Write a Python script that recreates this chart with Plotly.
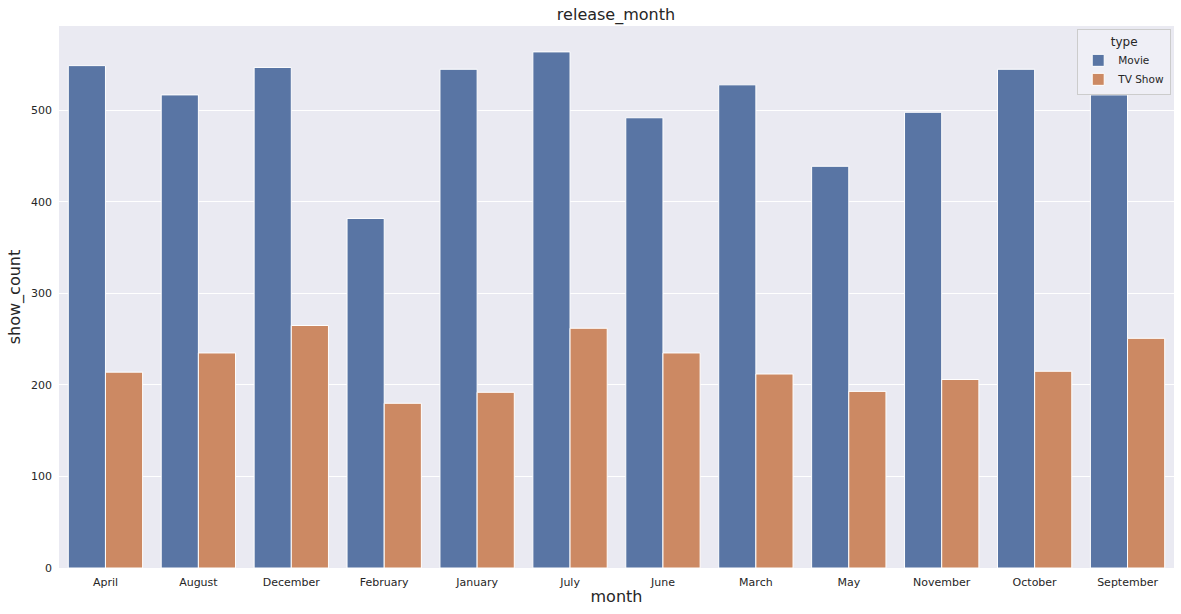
import plotly.graph_objects as go

months = ["April", "August", "December", "February", "January", "July",
          "June", "March", "May", "November", "October", "September"]
movie_counts = [549, 517, 547, 382, 545, 564, 492, 528, 439, 498, 545, 517]
tv_counts = [214, 235, 265, 180, 192, 262, 235, 212, 193, 206, 215, 251]

FONT = "DejaVu Sans"
fig = go.Figure()
fig.add_trace(go.Bar(x=months, y=movie_counts, name="Movie",
                     marker=dict(color="#5975a4", line=dict(color="white", width=1))))
fig.add_trace(go.Bar(x=months, y=tv_counts, name="TV Show",
                     marker=dict(color="#cc8963", line=dict(color="white", width=1))))

fig.update_layout(
    width=1181, height=614,
    margin=dict(l=59, r=7, t=26, b=46, autoexpand=False),
    barmode="group", bargap=0.2, bargroupgap=0,
    plot_bgcolor="#eaeaf2", paper_bgcolor="white",
    font=dict(family=FONT, color="#262626", size=11),
    title=dict(text="release_month", x=0.5216, xanchor="center", y=0.977, yanchor="middle",
               font=dict(size=16, family=FONT, color="#262626")),
    xaxis=dict(title=dict(text="month", font=dict(size=16), standoff=2),
               showgrid=False, ticks="", tickfont=dict(size=11), ticklabelstandoff=6,
               automargin=False),
    yaxis=dict(title=dict(text="show_count", font=dict(size=16), standoff=6),
               range=[0, 592.3], tickvals=[0, 100, 200, 300, 400, 500],
               gridcolor="white", gridwidth=1, zeroline=False, ticks="",
               tickfont=dict(size=11), ticklabelstandoff=6, automargin=False),
    legend=dict(x=0.9975, y=0.994, xanchor="right", yanchor="top",
                bgcolor="rgba(240,240,246,0.9)", bordercolor="#cccccc", borderwidth=1,
                title=dict(text="type", side="top center", font=dict(size=12)),
                font=dict(size=10.5), itemwidth=30, tracegroupgap=0),
    showlegend=True,
)
fig.write_html("out.html", config={"displayModeBar": False},
               post_script="document.body.style.margin='0';document.body.style.overflow='hidden';")
